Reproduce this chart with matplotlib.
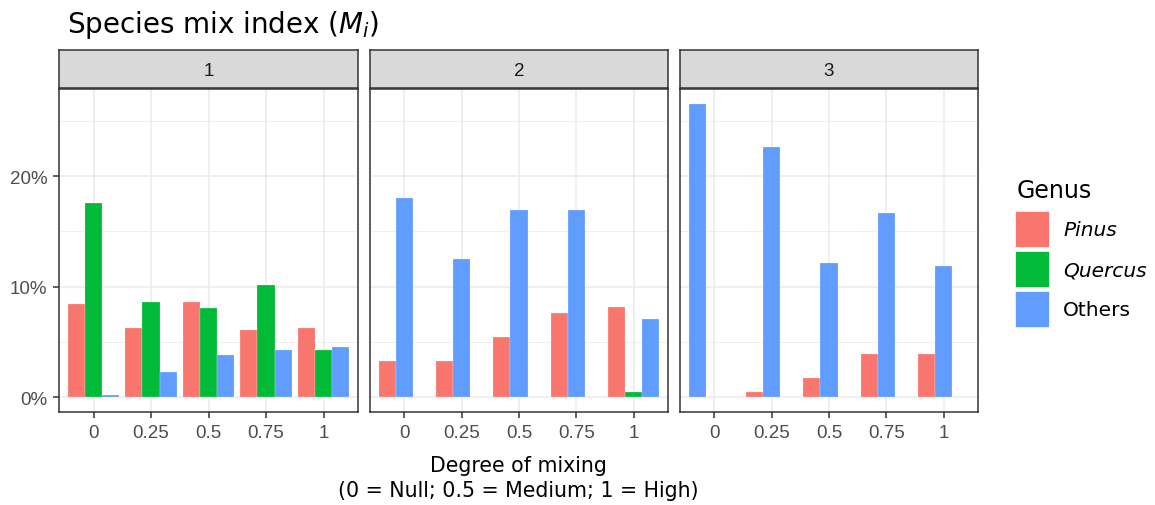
import matplotlib.pyplot as plt
from matplotlib.patches import Patch
import numpy as np

nan = np.nan

degrees = ['0', '0.25', '0.5', '0.75', '1']
facets = ['1', '2', '3']
genera = ['Pinus', 'Quercus', 'Others']
colors = ['#F8766D', '#00BA38', '#619CFF']

# % of trees by degree of mixing, one list per genus and facet
pinus_1 = [8.4, 6.3, 8.65, 6.1, 6.3]
quercus_1 = [17.6, 8.65, 8.1, 10.2, 4.3]
others_1 = [0.25, 2.3, 3.8, 4.3, 4.55]

pinus_2 = [3.3, 3.3, 5.45, 7.65, 8.2]
quercus_2 = [nan, nan, nan, nan, 0.5]
others_2 = [18.0, 12.55, 16.9, 16.9, 7.1]

pinus_3 = [nan, 0.5, 1.75, 3.95, 3.95]
quercus_3 = [nan, nan, nan, nan, nan]
others_3 = [26.55, 22.6, 12.15, 16.65, 11.9]

panel_data = [
    [pinus_1, quercus_1, others_1],
    [pinus_2, quercus_2, others_2],
    [pinus_3, quercus_3, others_3],
]

W, H = 1155, 506
fig = plt.figure(figsize=(W / 100, H / 100), dpi=100)

def px_axes(x0, y0, x1, y1):
    return fig.add_axes([x0 / W, 1 - y1 / H, (x1 - x0) / W, (y1 - y0) / H])

panel_x = [(59, 358), (370, 668), (680, 978)]
bw = 0.3
ymax = max(np.nanmax(s) for p in panel_data for s in p)
pad = ymax * 0.05

for j, (x0, x1) in enumerate(panel_x):
    ax = px_axes(x0, 90, x1, 413)
    vals = panel_data[j]
    for i in range(len(degrees)):
        present = [g for g in range(3) if not np.isnan(vals[g][i])]
        for k, g in enumerate(present):
            ax.bar(i + (k - 1) * bw, vals[g][i], width=bw, color=colors[g],
                   edgecolor='#FFFFFF80', linewidth=0.3, zorder=2)

    ax.set_xlim(-0.6, len(degrees) - 0.4)
    ax.set_ylim(-pad, ymax + pad)
    ax.set_xticks(range(len(degrees)))
    ax.set_xticklabels(degrees)
    ax.set_yticks([0, 10, 20])
    ax.set_yticks([5, 15, 25], minor=True)
    ax.set_yticklabels(['0%', '10%', '20%'])
    ax.set_axisbelow(True)
    ax.grid(which='major', color='#EBEBEB', linewidth=1.1)
    ax.grid(which='minor', axis='y', color='#EBEBEB', linewidth=0.55)
    for s in ax.spines.values():
        s.set_color('#333333')
        s.set_linewidth(1.1)
    ax.tick_params(which='major', direction='out', length=4.5, width=1.1, pad=4,
                   color='#333333', labelcolor='#4D4D4D', labelsize=13.5)
    ax.tick_params(which='minor', length=0)
    for lab in ax.get_xticklabels() + ax.get_yticklabels():
        lab.set_fontfamily('Liberation Sans')
    if j > 0:
        ax.tick_params(axis='y', left=False, labelleft=False)

    sx = px_axes(x0, 51, x1, 89)
    sx.set_facecolor('#D9D9D9')
    sx.set_xticks([])
    sx.set_yticks([])
    for s in sx.spines.values():
        s.set_color('#333333')
        s.set_linewidth(1.1)
    sx.text(0.5, 0.47, facets[j], ha='center', va='center', fontsize=13.5,
            color='#1A1A1A', family='Liberation Sans', transform=sx.transAxes)

fig.text(67 / W, 1 - 25 / H, 'Species mix index ($M_i$)', fontsize=20,
         va='center', ha='left', color='black')

fig.text(518 / W, 1 - 456 / H, 'Degree of mixing\n(0 = Null; 0.5 = Medium; 1 = High)',
         ha='center', va='top', fontsize=14.8, linespacing=1.3)

# legend: title drawn on its own so the gap above the keys matches
fig.text(1017 / W, 1 - 198 / H, 'Genus', fontsize=17, va='baseline', ha='left')
handles = [Patch(facecolor=c, edgecolor='white', linewidth=0.5) for c in colors]
leg = fig.legend(handles, genera, loc='upper left',
                 bbox_to_anchor=(1015 / W, 1 - 212 / H), frameon=False,
                 fontsize=14.5, handlelength=1.69,
                 handleheight=2.38, labelspacing=0.2, handletextpad=0.7,
                 borderaxespad=0, borderpad=0)
for t in leg.get_texts()[:2]:
    t.set_fontstyle('italic')

fig.savefig('out.png', dpi=100)
